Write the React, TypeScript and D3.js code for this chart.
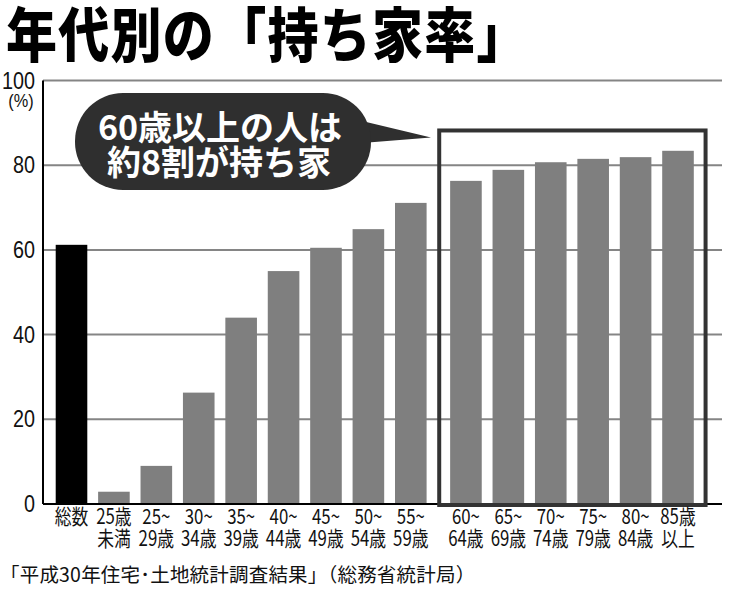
import React from "react";
import * as d3 from "d3";

const categoriesTop = ["総数", "25歳", "25~", "30~", "35~", "40~", "45~", "50~", "55~", "60~", "65~", "70~", "75~", "80~", "85歳"];
const categoriesBottom = ["", "未満", "29歳", "34歳", "39歳", "44歳", "49歳", "54歳", "59歳", "64歳", "69歳", "74歳", "79歳", "84歳", "以上"];
const values = [61.2, 2.9, 9.0, 26.3, 44.0, 55.0, 60.5, 64.9, 71.1, 76.3, 78.9, 80.7, 81.5, 81.9, 83.4];
const yTicks = [0, 20, 40, 60, 80, 100];
const highlightFrom = 9;

const W = 750;
const H = 609;
const JP = "'Noto Sans CJK JP', 'Noto Sans', sans-serif";
const NUM = "'Liberation Sans Narrow', 'Liberation Sans', Arial, sans-serif";

export default function App() {
  const y = d3.scaleLinear().domain([0, 100]).range([504, 80.5]);
  const pos = values.map((_, i) => i + (i >= highlightFrom ? 0.3 : 0));
  const x = d3.scaleLinear().domain([0, pos[pos.length - 1]]).range([71.5, 678]);
  const step = x(1) - x(0);
  const bw = step * 0.745;
  const plotLeft = 43;
  const plotRight = 722;

  const boxLeft = x(pos[highlightFrom]) - step * 0.63;
  const boxRight = x(pos[pos.length - 1]) + step * 0.65;
  const boxTop = y(88.2);

  return (
    <svg width={W} height={H} style={{ position: "absolute", left: 0, top: 0, background: "#fff" }}>
      <rect x={0} y={0} width={W} height={H} fill="#fff" />
      {/* title */}
      <text
        transform="translate(6,57) scale(1,1.16)"
        fontFamily={JP}
        fontWeight={900}
        fontSize={51}
        letterSpacing={1.3}
        fill="#000"
      >
        年代別の「持ち家率」
      </text>

      {/* gridlines */}
      {yTicks.filter((t) => t > 0).map((t) => (
        <line key={t} x1={plotLeft} x2={plotRight} y1={y(t)} y2={y(t)} stroke="#858585" strokeWidth={2} />
      ))}

      {/* y tick labels */}
      {yTicks.map((t) => (
        <text
          key={t}
          transform={`translate(35,${y(t) + 8}) scale(0.86,1)`}
          textAnchor="end"
          fontFamily={NUM}
          fontSize={23}
          fill="#111"
        >
          {t}
        </text>
      ))}
      <text transform="translate(21,107) scale(0.86,1)" textAnchor="middle" fontFamily={NUM} fontSize={19} fill="#111">
        (%)
      </text>

      {/* bars */}
      {values.map((v, i) => (
        <rect
          key={i}
          x={x(pos[i]) - bw / 2}
          y={y(v)}
          width={bw}
          height={y(0) - y(v)}
          fill={i === 0 ? "#000" : "#7f7f7f"}
        />
      ))}

      {/* axes */}
      <line x1={plotLeft} x2={plotLeft} y1={y(100)} y2={y(0)} stroke="#000" strokeWidth={2} />
      <line x1={plotLeft} x2={plotRight} y1={y(0)} y2={y(0)} stroke="#000" strokeWidth={2} />

      {/* highlight box */}
      <rect
        x={boxLeft}
        y={boxTop}
        width={boxRight - boxLeft}
        height={y(0) + 1 - boxTop}
        fill="none"
        stroke="#333"
        strokeWidth={4}
      />

      {/* callout */}
      <path d="M 362 121 L 431 137.5 L 362 143 Z" fill="#2f2f2f" />
      <rect x={75} y={93} width={296} height={97} rx={48} ry={48} fill="#2f2f2f" />
      <text x={220} y={140} textAnchor="middle" fontFamily={JP} fontWeight={700} fontSize={34} fill="#fff">
        60歳以上の人は
      </text>
      <text x={219} y={175} textAnchor="middle" fontFamily={JP} fontWeight={700} fontSize={34} fill="#fff">
        約8割が持ち家
      </text>

      {/* x labels */}
      {values.map((_, i) => (
        <g key={i} transform={`translate(${x(pos[i])},0)`}>
          <text transform="translate(0,524) scale(0.8,1)" textAnchor="middle" fontFamily={JP} fontSize={21} fill="#111">
            {categoriesTop[i]}
          </text>
          <text transform="translate(0,546) scale(0.8,1)" textAnchor="middle" fontFamily={JP} fontSize={21} fill="#111">
            {categoriesBottom[i]}
          </text>
        </g>
      ))}

      {/* source */}
      <text x={0} y={582} fontFamily={JP} fontSize={19.5} fill="#111" letterSpacing={0.2}>
        「平成30年住宅･土地統計調査結果」（総務省統計局）
      </text>
    </svg>
  );
}
